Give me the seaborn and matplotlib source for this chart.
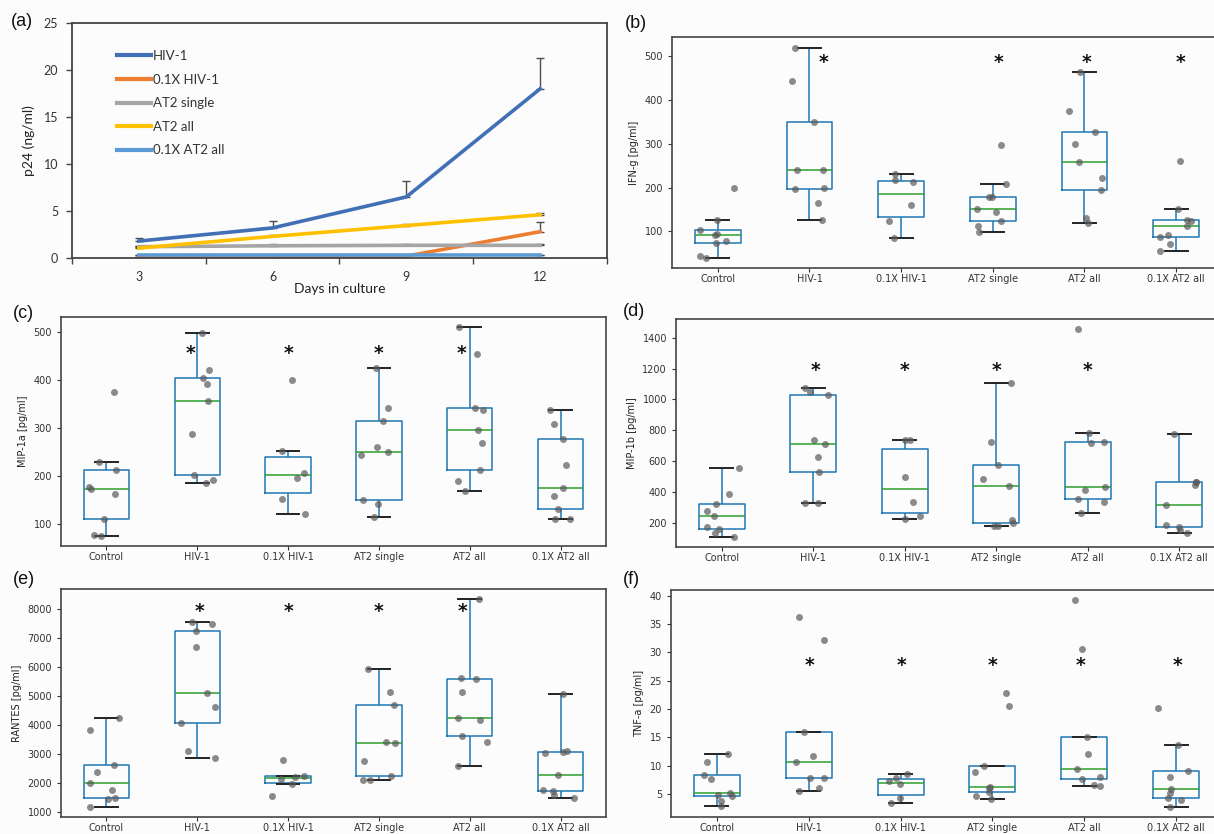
import numpy as np
import pandas as pd
import matplotlib
matplotlib.use("Agg")
import matplotlib.pyplot as plt
import seaborn as sns

np.random.seed(11)

# ---------------------------------------------------------------- data
groups = ["Control", "HIV-1", "0.1X HIV-1", "AT2 single", "AT2 all", "0.1X AT2 all"]

# (a) p24 in culture supernatant, ng/ml (mean and upper error)
days = [3, 6, 9, 12]
p24_series = ["HIV-1", "0.1X HIV-1", "AT2 single", "AT2 all", "0.1X AT2 all"]
p24_hiv = [1.8, 3.2, 6.5, 18.0]
p24_hiv_err = [0.3, 0.75, 1.7, 3.3]
p24_hiv_low = [0.15, 0.15, 0.2, 2.8]
p24_hiv_low_err = [0.0, 0.0, 0.05, 1.0]
p24_at2_single = [1.2, 1.3, 1.35, 1.35]
p24_at2_single_err = [0.1, 0.2, 0.15, 0.15]
p24_at2_all = [1.05, 2.3, 3.45, 4.6]
p24_at2_all_err = [0.2, 0.15, 0.2, 0.2]
p24_at2_all_low = [0.3, 0.3, 0.3, 0.3]
p24_at2_all_low_err = [0.0, 0.0, 0.0, 0.0]

# (b) IFN-g, pg/ml
ifng = [
    [40, 43, 74, 78, 92, 93, 103, 126, 200],
    [125, 165, 196, 198, 240, 240, 349, 444, 520],
    [85, 124, 160, 212, 217, 231],
    [98, 111, 123, 143, 150, 179, 179, 209, 297],
    [120, 131, 194, 221, 258, 299, 326, 376, 464],
    [56, 70, 88, 92, 113, 123, 126, 150, 261],
]
ifng_sig = ["HIV-1", "AT2 single", "AT2 all", "0.1X AT2 all"]

# (c) MIP-1a, pg/ml
mip1a = [
    [75, 77, 110, 162, 173, 177, 212, 228, 375],
    [185, 190, 201, 286, 355, 392, 404, 421, 497],
    [120, 152, 196, 206, 251, 400],
    [114, 140, 150, 244, 249, 260, 313, 342, 424],
    [169, 188, 212, 269, 296, 337, 340, 453, 509],
    [110, 110, 130, 158, 174, 222, 277, 307, 336],
]
mip1a_sig = ["HIV-1", "0.1X HIV-1", "AT2 single", "AT2 all"]

# (d) MIP-1b, pg/ml
mip1b = [
    [111, 133, 158, 172, 243, 274, 320, 387, 556],
    [330, 330, 528, 627, 714, 738, 1029, 1050, 1072],
    [224, 243, 337, 497, 736, 736],
    [178, 183, 200, 222, 439, 486, 573, 725, 1105],
    [261, 337, 352, 415, 434, 716, 725, 781, 1454],
    [137, 157, 172, 187, 319, 445, 462, 465, 777],
]
mip1b_sig = ["HIV-1", "0.1X HIV-1", "AT2 single", "AT2 all"]

# (e) RANTES, pg/ml
rantes = [
    [1172, 1446, 1469, 1732, 1995, 2362, 2625, 3826, 4238],
    [2865, 3094, 4078, 4627, 5108, 6686, 7247, 7487, 7568],
    [1526, 1938, 2133, 2190, 2247, 2796],
    [2076, 2098, 2224, 2750, 3380, 3414, 4673, 5142, 5920],
    [2590, 3414, 3620, 4169, 4249, 5130, 5588, 5611, 8334],
    [1480, 1561, 1698, 1732, 2270, 3025, 3071, 3105, 5050],
]
rantes_sig = ["HIV-1", "0.1X HIV-1", "AT2 single", "AT2 all"]

# (f) TNF-a, pg/ml
tnfa = [
    [2.9, 3.8, 4.65, 4.8, 5.1, 7.6, 8.35, 10.6, 12.0],
    [5.5, 6.0, 7.9, 7.9, 10.65, 11.7, 16.0, 32.2, 36.2],
    [3.45, 4.25, 6.7, 7.2, 7.9, 8.5],
    [4.05, 4.65, 5.3, 6.0, 6.3, 8.95, 9.9, 20.6, 22.9],
    [6.4, 6.6, 7.6, 7.95, 9.35, 12.0, 15.0, 30.6, 39.2],
    [2.75, 4.0, 4.25, 5.1, 5.8, 8.05, 9.05, 13.65, 20.2],
]
tnfa_sig = ["HIV-1", "0.1X HIV-1", "AT2 single", "AT2 all", "0.1X AT2 all"]

# ---------------------------------------------------------------- style
BG = "#fcfcfd"
FRAME = "#454545"
C_BOX = "#1f77b4"
C_MED = "#2ca02c"
LINE_COLORS = ["#4170b6", "#ED7D31", "#A5A5A5", "#FFC000", "#5B9BD5"]

W, H = 1214, 834
fig = plt.figure(figsize=(W / 100, H / 100), dpi=100, facecolor=BG)


def axes_px(l, t, r, b):
    ax = fig.add_axes([l / W, 1 - b / H, (r - l) / W, (b - t) / H])
    ax.set_facecolor(BG)
    return ax


def panel_label(x, y, s):
    fig.text(x / W, 1 - y / H, s, ha="left", va="center", fontsize=13,
             family="Liberation Sans", color="#111111")


# ---------------------------------------------------------------- (a) p24 time course
ax_a = axes_px(72, 23, 607, 258)
means = [p24_hiv, p24_hiv_low, p24_at2_single, p24_at2_all, p24_at2_all_low]
errs = [p24_hiv_err, p24_hiv_low_err, p24_at2_single_err, p24_at2_all_err, p24_at2_all_low_err]
df_a = pd.DataFrame({
    "day": np.tile(days, len(p24_series)),
    "p24": np.concatenate(means),
    "series": np.repeat(p24_series, len(days)),
})
for m, e in zip(means, errs):
    ax_a.errorbar(days, m, yerr=[np.zeros(len(days)), e], fmt="none",
                  ecolor="#4d4d4d", elinewidth=1.0, capsize=3, capthick=1.0, zorder=1)
sns.lineplot(data=df_a, x="day", y="p24", hue="series", hue_order=p24_series,
             palette=LINE_COLORS, linewidth=2.6, ax=ax_a, zorder=2)
ax_a.set_xlim(1.5, 13.5)
ax_a.set_ylim(0, 25)
ax_a.set_xticks(days)
ax_a.set_xticklabels([str(d) for d in days])
ax_a.set_xticks([1.5, 4.5, 7.5, 10.5, 13.5], minor=True)
ax_a.set_yticks(range(0, 26, 5))
ax_a.tick_params(axis="x", which="major", length=0, pad=9, labelsize=9, labelcolor="#333333",
                 labelfontfamily="Lato")
ax_a.tick_params(axis="x", which="minor", length=4, width=1, color=FRAME)
ax_a.tick_params(axis="y", length=4, width=1, color=FRAME, labelsize=9, labelcolor="#333333",
                 labelfontfamily="Lato", pad=6)
ax_a.set_xlabel("Days in culture", fontsize=10, family="Lato", color="#222222", labelpad=0)
ax_a.set_ylabel("p24 (ng/ml)", fontsize=10, family="Lato", color="#222222", labelpad=6)
for sp in ax_a.spines.values():
    sp.set_color(FRAME)
    sp.set_linewidth(1.3)
leg = ax_a.legend(title=None, loc="upper left", bbox_to_anchor=(0.084, 0.885), frameon=False,
                  prop={"family": "Lato", "size": 9.5}, handlelength=2.6, handletextpad=0.15,
                  labelspacing=0.88, borderpad=0, borderaxespad=0)
for t in leg.get_texts():
    t.set_color("#333333")
for h in leg.get_lines():
    h.set_linewidth(3)
panel_label(11, 21, "(a)")


# ---------------------------------------------------------------- (b)-(f) cytokine box plots
def box_panel(box, label_xy, label, values, ylabel, sig, star_y, star_dx):
    ax = axes_px(*box)
    df = pd.DataFrame({
        "group": np.repeat(groups, [len(v) for v in values]),
        "value": np.concatenate(values),
    })
    sns.boxplot(data=df, x="group", y="value", order=groups, width=0.5, fill=False,
                color=C_BOX, saturation=1, showfliers=False, linewidth=1.1,
                medianprops={"color": C_MED, "linewidth": 1.1},
                whiskerprops={"color": C_BOX, "linewidth": 1.1},
                capprops={"color": "#222222", "linewidth": 1.4},
                capwidths=0.25, ax=ax)
    sns.stripplot(data=df, x="group", y="value", order=groups, color="#5a5a5a", alpha=0.7,
                  size=5, jitter=0.2, linewidth=0, ax=ax, zorder=3)
    for g, dx in zip(sig, star_dx):
        ax.text(groups.index(g) + dx, star_y, "*", ha="center", va="center",
                fontsize=13.5, fontweight="bold", color="#111111")
    ax.set_xlabel("")
    ax.set_ylabel(ylabel, fontsize=7, color="#222222")
    ax.tick_params(labelsize=7, length=3, width=0.8, color="#333333", labelcolor="#333333")
    ax.tick_params(axis="x", pad=1.5)
    for sp in ax.spines.values():
        sp.set_visible(True)
        sp.set_color(FRAME)
        sp.set_linewidth(1.2)
    panel_label(label_xy[0], label_xy[1], label)
    return ax


box_panel((672, 37, 1222, 268), (625, 23), "(b)", ifng, "IFN-g [pg/ml]",
          ifng_sig, 485, [0.15, 0.06, 0.02, 0.05])
box_panel((61, 317, 606, 546), (13, 313), "(c)", mip1a, "MIP-1a [pg/ml]",
          mip1a_sig, 455, [-0.07, 0.0, 0.0, -0.09])
box_panel((676, 319, 1225, 547), (623, 311), "(d)", mip1b, "MIP-1b [pg/ml]",
          mip1b_sig, 1190, [0.03, 0.0, 0.0, 0.0])
box_panel((61, 589, 606, 817), (13, 580), "(e)", rantes, "RANTES [pg/ml]",
          rantes_sig, 7900, [0.02, 0.0, 0.0, -0.08])
box_panel((671, 590, 1222, 817), (623, 579), "(f)", tnfa, "TNF-a [pg/ml]",
          tnfa_sig, 27.7, [0.01, 0.01, 0.0, -0.04, 0.01])

fig.savefig("out.png", dpi=100, facecolor=BG)
